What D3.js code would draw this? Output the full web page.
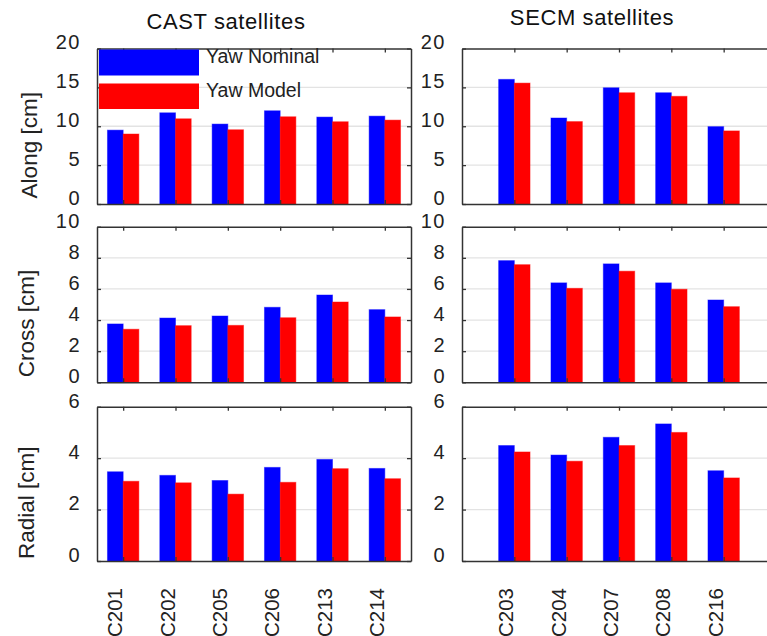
<!DOCTYPE html>
<html>
<head>
<meta charset="utf-8">
<script src="https://cdn.jsdelivr.net/npm/d3@7"></script>
<style>
  html, body { margin: 0; padding: 0; background: #fff; overflow: hidden; }
  svg { display: block; font-family: "Liberation Sans", Arial, Helvetica, sans-serif; }
</style>
</head>
<body>
<svg id="chart" width="767" height="636"></svg>
<script>
// Satellite groups
const castSats = ["C201", "C202", "C205", "C206", "C213", "C214"];
const secmSats = ["C203", "C204", "C207", "C208", "C216"];

// RMS per component [cm]: nominal yaw vs. yaw model
const alongNominalCast = [9.5, 11.73, 10.28, 11.99, 11.18, 11.3];
const alongModelCast   = [9.0, 10.96, 9.55, 11.22, 10.58, 10.79];
const alongNominalSecm = [16.03, 11.06, 14.95, 14.31, 9.95];
const alongModelSecm   = [15.55, 10.6, 14.31, 13.85, 9.4];

const crossNominalCast = [3.75, 4.13, 4.26, 4.82, 5.61, 4.67];
const crossModelCast   = [3.41, 3.64, 3.66, 4.15, 5.16, 4.2];
const crossNominalSecm = [7.82, 6.39, 7.61, 6.39, 5.29];
const crossModelSecm   = [7.56, 6.04, 7.14, 5.98, 4.86];

const radialNominalCast = [3.47, 3.33, 3.13, 3.64, 3.95, 3.6];
const radialModelCast   = [3.1, 3.04, 2.6, 3.06, 3.59, 3.2];
const radialNominalSecm = [4.49, 4.12, 4.81, 5.33, 3.51];
const radialModelSecm   = [4.24, 3.88, 4.49, 5.0, 3.23];

// Axis ticks and labels
const alongTicks  = [0, 5, 10, 15, 20];
const crossTicks  = [0, 2, 4, 6, 8, 10];
const radialTicks = [0, 2, 4, 6];
const rowLabels = ["Along [cm]", "Cross [cm]", "Radial [cm]"];
const columnTitles = ["CAST satellites", "SECM satellites"];
const seriesNames = ["Yaw Nominal", "Yaw Model"];
const seriesColors = ["#0000ff", "#ff0000"];

const svg = d3.select("#chart");
const textColor = "#222222";
const axisColor = "#333333";
const gridColor = "#e3e3e3";

// Panel geometry
const columns = [
  { cats: castSats, domain: [0.5, castSats.length + 0.5], range: [97, 411], title: columnTitles[0], titleX: 226, titleY: 29 },
  { cats: secmSats, domain: [0, secmSats.length + 1], range: [462, 776], title: columnTitles[1], titleX: 592, titleY: 25 }
];
const rows = [
  { top: 48.5, bottom: 204, ticks: alongTicks, label: rowLabels[0], labelX: 37,
    data: [[alongNominalCast, alongModelCast], [alongNominalSecm, alongModelSecm]] },
  { top: 226.7, bottom: 382.3, ticks: crossTicks, label: rowLabels[1], labelX: 33.5,
    data: [[crossNominalCast, crossModelCast], [crossNominalSecm, crossModelSecm]] },
  { top: 406.7, bottom: 561, ticks: radialTicks, label: rowLabels[2], labelX: 33.5,
    data: [[radialNominalCast, radialModelCast], [radialNominalSecm, radialModelSecm]] }
];

const barWidth = 0.3; // in category units

rows.forEach((row, ri) => {
  const y = d3.scaleLinear()
    .domain([0, d3.max(row.ticks)])
    .range([row.bottom, row.top]);

  columns.forEach((col, ci) => {
    const x = d3.scaleLinear().domain(col.domain).range(col.range);
    const positions = col.cats.map((_, i) => i + 1);
    const g = svg.append("g");

    // horizontal grid
    g.append("g").selectAll("line")
      .data(row.ticks.filter(t => t > 0 && t < d3.max(row.ticks)))
      .join("line")
      .attr("x1", col.range[0]).attr("x2", col.range[1])
      .attr("y1", d => y(d)).attr("y2", d => y(d))
      .attr("stroke", gridColor).attr("stroke-width", 1.3);

    // grouped bars
    const [nominal, model] = row.data[ci];
    [nominal, model].forEach((vals, si) => {
      g.append("g").selectAll("rect")
        .data(vals)
        .join("rect")
        .attr("x", (d, i) => x(positions[i] + (si === 0 ? -barWidth : 0)))
        .attr("width", x(barWidth) - x(0))
        .attr("y", d => y(d))
        .attr("height", d => y(0) - y(d))
        .attr("fill", seriesColors[si])
        .attr("stroke", seriesColors[si])
        .attr("stroke-opacity", 0.45)
        .attr("stroke-width", 1);
    });

    // left axis with labels
    const left = g.append("g")
      .attr("transform", `translate(${col.range[0]},0)`)
      .call(d3.axisLeft(y).tickValues(row.ticks).tickFormat(d3.format("d"))
        .tickSizeInner(-4).tickSizeOuter(0).tickPadding(16));
    left.select(".domain").attr("stroke", axisColor).attr("stroke-width", 1.5);
    left.selectAll(".tick line").attr("stroke", axisColor).attr("stroke-width", 1.3);
    left.selectAll(".tick text")
      .attr("dy", "0.02em")
      .attr("fill", textColor)
      .style("font-size", "20px")
      .style("letter-spacing", "1.5px")
      .style("font-family", "'Liberation Sans', Arial, sans-serif");

    // right axis (ticks only)
    const right = g.append("g")
      .attr("transform", `translate(${col.range[1]},0)`)
      .call(d3.axisRight(y).tickValues(row.ticks).tickSizeInner(-4).tickSizeOuter(0).tickFormat(""));
    right.select(".domain").attr("stroke", axisColor).attr("stroke-width", 1.5);
    right.selectAll(".tick line").attr("stroke", axisColor).attr("stroke-width", 1.3);

    // top axis (ticks only)
    const topAx = g.append("g")
      .attr("transform", `translate(0,${row.top})`)
      .call(d3.axisTop(x).tickValues(positions).tickSizeInner(-4).tickSizeOuter(0).tickFormat(""));
    topAx.select(".domain").attr("stroke", axisColor).attr("stroke-width", 1.5);
    topAx.selectAll(".tick line").attr("stroke", axisColor).attr("stroke-width", 1.3);

    // bottom axis
    const bottomAx = g.append("g")
      .attr("transform", `translate(0,${row.bottom})`)
      .call(d3.axisBottom(x).tickValues(positions).tickSizeInner(-4).tickSizeOuter(0).tickFormat(""));
    bottomAx.select(".domain").attr("stroke", axisColor).attr("stroke-width", 1.5);
    bottomAx.selectAll(".tick line").attr("stroke", axisColor).attr("stroke-width", 1.3);

    // satellite names under the last row
    if (ri === rows.length - 1) {
      g.append("g").selectAll("text")
        .data(col.cats)
        .join("text")
        .attr("transform", (d, i) => `translate(${x(positions[i]) - 1},588) rotate(-90)`)
        .attr("text-anchor", "end")
        .attr("fill", textColor)
        .style("font-size", "20.5px")
        .text(d => d);
    }

    // column titles
    if (ri === 0) {
      svg.append("text")
        .attr("x", col.titleX).attr("y", col.titleY)
        .attr("text-anchor", "middle")
        .attr("fill", "#111")
        .style("font-size", "22px")
        .style("letter-spacing", "0.6px")
        .text(col.title);
    }
  });

  // row labels
  svg.append("text")
    .attr("transform", `translate(${row.labelX},${(row.top + row.bottom) / 2 + 19}) rotate(-90)`)
    .attr("text-anchor", "middle")
    .attr("fill", textColor)
    .style("font-size", "22.5px")
    .text(row.label);
});

// legend inside the top-left panel
const legend = svg.append("g");
const legendItems = [
  { name: seriesNames[0], color: seriesColors[0], y0: 49.5, y1: 75.5, textY: 63 },
  { name: seriesNames[1], color: seriesColors[1], y0: 83.5, y1: 109, textY: 97 }
];
legendItems.forEach(item => {
  legend.append("rect")
    .attr("x", 99).attr("y", item.y0)
    .attr("width", 100).attr("height", item.y1 - item.y0)
    .attr("fill", item.color);
  legend.append("text")
    .attr("x", 206).attr("y", item.textY)
    .attr("fill", textColor)
    .style("font-size", "19.5px")
    .text(item.name);
});
</script>
</body>
</html>
